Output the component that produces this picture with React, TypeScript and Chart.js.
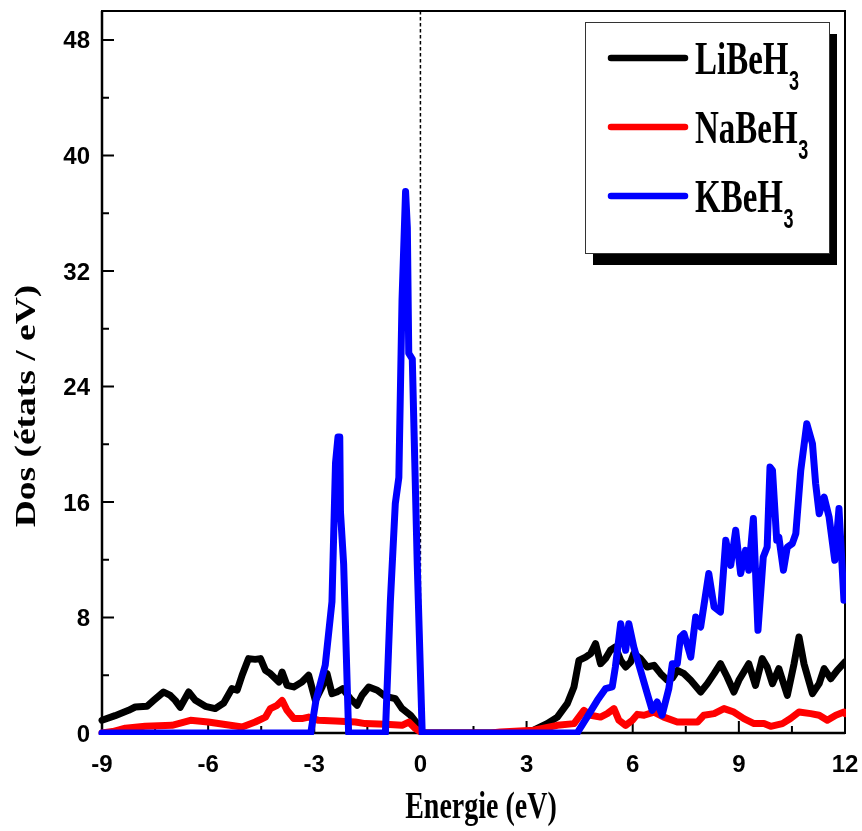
import { useEffect, useRef } from "react";
import { Chart, registerables } from "chart.js";

Chart.register(...registerables);

// ---- data ----
const liEnergy = [
  -9, -8.63, -8.25, -8.06, -7.73, -7.54, -7.26, -7.07, -6.93, -6.79, -6.55, -6.36, -6.08, -5.8, -5.56,
  -5.33, -5.18, -5.04, -4.86, -4.67, -4.52, -4.38, -4.24, -4.0, -3.91, -3.77, -3.58, -3.35, -3.16,
  -2.97, -2.78, -2.64, -2.5, -2.36, -2.2, -1.98, -1.79, -1.65, -1.46, -1.22, -0.99, -0.71, -0.52,
  -0.28, -0.05, 0.08, 2.9, 3.2, 3.58, 3.87, 4.15, 4.34, 4.48, 4.67, 4.81, 4.95, 5.09, 5.23, 5.37,
  5.51, 5.66, 5.8, 5.94, 6.03, 6.22, 6.41, 6.6, 6.79, 6.98, 7.12, 7.26, 7.45, 7.64, 7.92, 8.11, 8.3,
  8.48, 8.67, 8.86, 9.0, 9.28, 9.47, 9.66, 9.8, 9.95, 10.13, 10.37, 10.56, 10.7, 10.84, 11.08, 11.27,
  11.41, 11.6, 11.78, 12.0,
];
const liDos = [
  0.88, 1.2, 1.57, 1.8, 1.85, 2.26, 2.84, 2.6, 2.26, 1.78, 2.84, 2.26, 1.85, 1.69, 2.08,
  3.07, 2.96, 4.0, 5.15, 5.1, 5.15, 4.34, 4.11, 3.53, 4.22, 3.3, 3.19, 3.53, 4.0,
  2.26, 3.19, 4.11, 2.73, 2.84, 3.07, 2.38, 1.92, 2.61, 3.19, 2.96, 2.54, 2.38, 1.69,
  1.23, 0.53, 0, 0, 0.19, 0.65, 1.1, 2.03, 3.19, 5.03, 5.26, 5.5, 6.19, 4.8, 5.15, 5.73,
  5.96, 5.03, 4.57, 4.92, 5.5, 5.15, 4.57, 4.69, 4.11, 3.65, 3.8, 4.34, 4.11, 3.65, 2.84, 3.42, 4.11,
  4.8, 3.88, 2.84, 3.65, 4.8, 3.3, 5.15, 4.57, 3.42, 4.46, 2.61, 4.8, 6.65, 4.8, 2.73, 3.42,
  4.46, 3.76, 4.34, 4.92,
];

const naEnergy = [
  -9, -8.7, -8.34, -7.78, -7.02, -6.5, -6.0, -5.04, -4.67, -4.38, -4.24, -4.05, -3.91, -3.77, -3.58,
  -3.35, -3.16, -2.88, -2.4, -1.84, -1.56, -0.99, -0.52, -0.33, -0.14, 0.05, 2.0, 2.26, 3.2, 3.87,
  4.34, 4.62, 4.81, 5.09, 5.28, 5.47, 5.61, 5.8, 5.99, 6.13, 6.32, 6.6, 6.88, 7.26, 7.54, 7.83, 8.01,
  8.3, 8.58, 8.86, 9.14, 9.43, 9.71, 9.9, 10.23, 10.46, 10.7, 11.03, 11.27, 11.5, 11.74, 11.97, 12.0,
];
const naDos = [
  0, 0.1, 0.33, 0.46, 0.53, 0.88, 0.76, 0.42, 0.76, 1.1, 1.69, 1.92, 2.26, 1.57, 1.0,
  1.0, 1.1, 0.88, 0.83, 0.76, 0.65, 0.6, 0.53, 0.76, 0.3, 0, 0, 0.07, 0.19, 0.53,
  0.65, 1.57, 1.23, 1.1, 1.34, 1.69, 0.88, 0.53, 0.88, 1.29, 1.23, 1.45, 1.1, 0.76, 0.76, 0.76, 1.23,
  1.34, 1.69, 1.45, 1.0, 0.65, 0.65, 0.46, 0.65, 1.0, 1.45, 1.34, 1.23, 0.88, 1.23, 1.45, 1.35,
];

const kEnergy = [
  -9, -3.1, -2.95, -2.69, -2.5, -2.4, -2.33, -2.28, -2.26, -2.17, -2.03, -0.99, -0.85, -0.71, -0.61,
  -0.52, -0.42, -0.37, -0.33, -0.23, -0.09, 0.05, 4.43, 4.71, 5.0, 5.23, 5.42, 5.51, 5.66, 5.8, 5.89,
  6.03, 6.22, 6.41, 6.55, 6.69, 6.83, 7.02, 7.12, 7.26, 7.35, 7.45, 7.64, 7.78, 7.92, 8.15, 8.3, 8.48,
  8.63, 8.77, 8.91, 9.05, 9.19, 9.28, 9.41, 9.54, 9.69, 9.8, 9.88, 9.95, 10.07, 10.13, 10.26, 10.37,
  10.51, 10.61, 10.75, 10.92, 11.08, 11.17, 11.27, 11.41, 11.55, 11.71, 11.83, 11.97,
];
const kDos = [
  0, 0, 2.3, 4.7, 9.1, 18.7, 20.5, 20.5, 15.3, 11.7, 0, 0, 9.1, 15.9, 17.7,
  30, 37.5, 35, 26.3, 25.9, 11.7, 0, 0, 1.1, 2.26, 3.07, 3.19, 4.57, 7.57, 5.73, 7.57,
  5.96, 4.34, 2.73, 1.57, 2.15, 1.23, 3.07, 4.8, 4.8, 6.65, 6.88, 5.26, 8.03, 7.34, 11.04, 8.73, 8.38,
  13.35, 11.61, 14.04, 11.04, 12.65, 11.27, 14.85, 7.11, 12.19, 12.88, 18.42, 18.19, 13.35, 13.57, 11.27, 12.88,
  13.12, 13.81, 18.19, 21.42, 20.04, 17.27, 15.19, 16.34, 14.96, 11.96, 15.54, 9.19,
];

const yMajorTicks = [0, 8, 16, 24, 32, 40, 48];
const yMinorTicks = [4, 12, 20, 28, 36, 44];
const xMajorTicks = [-9, -6, -3, 0, 3, 6, 9, 12];
const xMinorTicks = [-7.5, -4.5, -1.5, 1.5, 4.5, 7.5, 10.5];

const seriesNames = ["LiBeH", "NaBeH", "KBeH"];
const seriesSub = "3";
const seriesColors = ["#000000", "#ff0000", "#0000ff"];
const xTitle = "Energie (eV)";
const yTitle = "Dos (états / eV)";

const LINE_W = 7;

const toPoints = (xs: number[], ys: number[]) => xs.map((x, i) => ({ x, y: ys[i] }));

function stretched(
  ctx: CanvasRenderingContext2D,
  text: string,
  x: number,
  y: number,
  font: string,
  sy: number,
  align: CanvasTextAlign
) {
  ctx.save();
  ctx.translate(x, y);
  ctx.scale(1, sy);
  ctx.font = font;
  ctx.textAlign = align;
  ctx.textBaseline = "alphabetic";
  ctx.fillStyle = "#000";
  ctx.fillText(text, 0, 0);
  ctx.restore();
}

const decorPlugin = {
  id: "decor",
  beforeDatasetsDraw(chart: any) {
    const { ctx, chartArea: a, scales } = chart;
    const xs = scales.x;
    const ys = scales.y;
    ctx.save();
    const x0 = xs.getPixelForValue(0);
    ctx.strokeStyle = "#000";
    ctx.lineWidth = 1.5;
    ctx.setLineDash([3.5, 2.5]);
    ctx.beginPath();
    ctx.moveTo(x0, a.top);
    ctx.lineTo(x0, a.bottom);
    ctx.stroke();
    ctx.setLineDash([]);
    ctx.lineWidth = 2;
    ctx.strokeRect(a.left, a.top, a.right - a.left, a.bottom - a.top);
    ctx.lineWidth = 2.5;
    ctx.beginPath();
    ctx.moveTo(a.left, a.top);
    ctx.lineTo(a.left, a.bottom);
    ctx.lineTo(a.right, a.bottom);
    ctx.stroke();
    ctx.lineWidth = 2;
    ctx.beginPath();
    yMajorTicks.forEach((v) => {
      const p = ys.getPixelForValue(v);
      ctx.moveTo(a.left, p);
      ctx.lineTo(a.left + 12, p);
    });
    yMinorTicks.forEach((v) => {
      const p = ys.getPixelForValue(v);
      ctx.moveTo(a.left, p);
      ctx.lineTo(a.left + 7, p);
    });
    xMajorTicks.forEach((v) => {
      const p = xs.getPixelForValue(v);
      ctx.moveTo(p, a.bottom);
      ctx.lineTo(p, a.bottom - 12);
    });
    xMinorTicks.forEach((v) => {
      const p = xs.getPixelForValue(v);
      ctx.moveTo(p, a.bottom);
      ctx.lineTo(p, a.bottom - 7);
    });
    ctx.stroke();
    ctx.restore();
  },
  afterDraw(chart: any) {
    const { ctx, chartArea: a, scales } = chart;
    const xs = scales.x;
    const ys = scales.y;
    ctx.save();
    ctx.fillStyle = "#000";
    ctx.font = "bold 24px 'Liberation Sans', Arial, sans-serif";
    ctx.textBaseline = "alphabetic";
    ctx.textAlign = "right";
    yMajorTicks.forEach((v) => {
      ctx.fillText(String(v), a.left - 12, ys.getPixelForValue(v) + 8.6);
    });
    ctx.textAlign = "center";
    xMajorTicks.forEach((v) => {
      ctx.fillText(String(v), xs.getPixelForValue(v), a.bottom + 39);
    });
    ctx.restore();

    stretched(ctx, xTitle, 481, 818, "bold 28px 'Liberation Serif', serif", 1.35, "center");
    ctx.save();
    ctx.translate(35, 406);
    ctx.rotate(-Math.PI / 2);
    ctx.scale(1.25, 1);
    ctx.font = "bold 30px 'Liberation Serif', serif";
    ctx.textAlign = "center";
    ctx.textBaseline = "alphabetic";
    ctx.fillStyle = "#000";
    ctx.fillText(yTitle, 0, 0);
    ctx.restore();

    const bx = 585, by = 22, bw = 244, bh = 231;
    ctx.save();
    ctx.fillStyle = "#000";
    ctx.fillRect(bx + 8, by + 12, bw, bh);
    ctx.fillStyle = "#fff";
    ctx.fillRect(bx, by, bw, bh);
    ctx.strokeStyle = "#333";
    ctx.lineWidth = 1;
    ctx.strokeRect(bx + 0.5, by + 0.5, bw, bh);
    ctx.restore();
    const lineYs = [58, 127, 196];
    seriesNames.forEach((name, i) => {
      const ly = lineYs[i];
      ctx.save();
      ctx.strokeStyle = seriesColors[i];
      ctx.lineWidth = 6.5;
      ctx.lineCap = "round";
      ctx.beginPath();
      ctx.moveTo(611, ly);
      ctx.lineTo(685, ly);
      ctx.stroke();
      ctx.restore();
      const font = "bold 33px 'Liberation Serif', serif";
      stretched(ctx, name, 695, ly + 15.5, font, 1.38, "left");
      ctx.save();
      ctx.font = font;
      const w = ctx.measureText(name).width;
      ctx.restore();
      stretched(ctx, seriesSub, 695 + w + 0.5, ly + 32, "bold 18px 'Liberation Sans', Arial, sans-serif", 1.5, "left");
    });
  },
};

export default function App() {
  const ref = useRef<HTMLCanvasElement | null>(null);
  useEffect(() => {
    if (!ref.current) return;
    const mk = (i: number, xs: number[], ys: number[], order: number) => ({
      label: seriesNames[i] + seriesSub,
      data: toPoints(xs, ys),
      borderColor: seriesColors[i],
      backgroundColor: seriesColors[i],
      borderWidth: LINE_W,
      pointRadius: 0,
      tension: 0,
      fill: false,
      borderJoinStyle: "round" as const,
      borderCapStyle: "round" as const,
      clip: { left: 4, top: 4, right: 1, bottom: 2 },
      order,
    });
    const chart = new Chart(ref.current, {
      type: "line",
      data: {
        datasets: [
          mk(0, liEnergy, liDos, 3),
          mk(1, naEnergy, naDos, 2),
          mk(2, kEnergy, kDos, 1),
        ],
      },
      options: {
        responsive: false,
        animation: false,
        elements: { line: { borderWidth: LINE_W, tension: 0 }, point: { radius: 0 } },
        layout: { padding: { left: 0, top: 11, right: 17, bottom: 0 } },
        scales: {
          x: {
            type: "linear",
            min: -9,
            max: 12,
            ticks: { display: false },
            grid: { display: false },
            border: { display: false },
            afterFit: (s: any) => {
              s.height = 98;
            },
          },
          y: {
            type: "linear",
            min: 0,
            max: 50,
            ticks: { display: false },
            grid: { display: false },
            border: { display: false },
            afterFit: (s: any) => {
              s.width = 102;
            },
          },
        },
        plugins: {
          legend: { display: false },
          tooltip: { enabled: false },
        },
      },
      plugins: [decorPlugin],
    });
    return () => chart.destroy();
  }, []);
  return (
    <div style={{ position: "absolute", left: 0, top: 0, width: 862, height: 831, background: "#fff" }}>
      <canvas ref={ref} width={862} height={831} style={{ display: "block" }} />
    </div>
  );
}
